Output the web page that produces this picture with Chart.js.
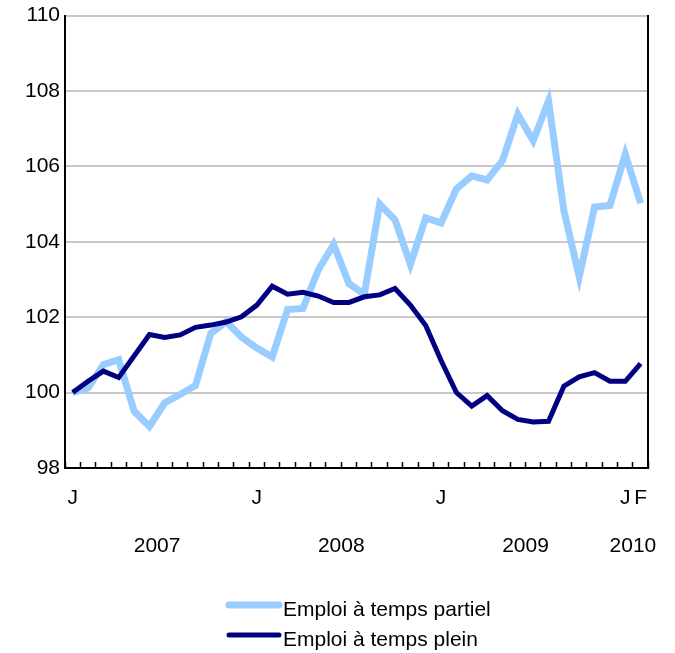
<!DOCTYPE html>
<html>
<head>
<meta charset="utf-8">
<script src="https://cdn.jsdelivr.net/npm/chart.js@4/dist/chart.umd.min.js"></script>
<style>
  html, body { margin: 0; padding: 0; background: #ffffff; }
  #wrap { width: 675px; height: 653px; }
</style>
</head>
<body>
<div id="wrap"><canvas id="c" width="675" height="653"></canvas></div>
<script>
// ---- Data ----
const months = [
  'Jan 2007','Feb 2007','Mar 2007','Apr 2007','May 2007','Jun 2007','Jul 2007','Aug 2007','Sep 2007','Oct 2007','Nov 2007','Dec 2007',
  'Jan 2008','Feb 2008','Mar 2008','Apr 2008','May 2008','Jun 2008','Jul 2008','Aug 2008','Sep 2008','Oct 2008','Nov 2008','Dec 2008',
  'Jan 2009','Feb 2009','Mar 2009','Apr 2009','May 2009','Jun 2009','Jul 2009','Aug 2009','Sep 2009','Oct 2009','Nov 2009','Dec 2009',
  'Jan 2010','Feb 2010'
];
const monthTickLabels = [
  'J','','','','','','','','','','','',
  'J','','','','','','','','','','','',
  'J','','','','','','','','','','','',
  'J','F'
];
const yearLabels = ['2007', '2008', '2009', '2010'];
const yearCentres = [5.5, 17.5, 29.5, 36.5];

const partTime = [
  100.0, 100.12, 100.74, 100.87, 99.51, 99.1, 99.73, 99.95, 100.19, 101.57, 101.88, 101.47,
  101.18, 100.94, 102.2, 102.23, 103.25, 103.93, 102.89, 102.61, 105.0, 104.58, 103.4, 104.63,
  104.5, 105.4, 105.75, 105.64, 106.15, 107.38, 106.68, 107.73, 104.83, 103.07, 104.92, 104.96,
  106.32, 105.02
];
const fullTime = [
  100.0, 100.3, 100.57, 100.4, 100.97, 101.54, 101.46, 101.53, 101.73, 101.79, 101.87, 102.01,
  102.32, 102.82, 102.61, 102.66, 102.56, 102.39, 102.39, 102.54, 102.59, 102.76, 102.32, 101.78,
  100.85, 100.0, 99.64, 99.92, 99.52, 99.29, 99.22, 99.24, 100.17, 100.42, 100.53, 100.3,
  100.3, 100.77
];
const seriesNames = ['Emploi à temps partiel', 'Emploi à temps plein'];

const FONT = { family: '"Liberation Sans", Arial, sans-serif', size: 21 };
const YFONT = { family: '"Liberation Sans", Arial, sans-serif', size: 21, lineHeight: 1 };

const legendPlugin = {
  id: 'customLegend',
  afterDraw(chart) {
    const ctx = chart.ctx;
    ctx.save();
    chart.data.datasets.forEach((ds, i) => {
      const yLine = 605 + i * 30;
      ctx.beginPath();
      ctx.strokeStyle = ds.borderColor;
      ctx.lineWidth = ds.borderWidth;
      ctx.lineCap = 'round';
      ctx.moveTo(229, yLine);
      ctx.lineTo(279, yLine);
      ctx.stroke();
      ctx.fillStyle = '#000000';
      ctx.font = FONT.size + 'px ' + FONT.family;
      ctx.textBaseline = 'alphabetic';
      ctx.textAlign = 'left';
      ctx.fillText(ds.label, 283, yLine + 11);
    });
    ctx.restore();
  }
};

new Chart(document.getElementById('c'), {
  type: 'line',
  data: {
    labels: months,
    datasets: [
      {
        label: seriesNames[0],
        data: partTime,
        borderColor: '#99ccff',
        backgroundColor: '#99ccff',
        borderWidth: 7,
        pointRadius: 0,
        tension: 0,
        order: 1,
        borderJoinStyle: 'miter',
        yAxisID: 'y',
        xAxisID: 'x'
      },
      {
        label: seriesNames[1],
        data: fullTime,
        borderColor: '#000080',
        backgroundColor: '#000080',
        borderWidth: 5,
        pointRadius: 0,
        tension: 0,
        order: 0,
        borderJoinStyle: 'miter',
        yAxisID: 'y',
        xAxisID: 'x'
      }
    ]
  },
  options: {
    responsive: false,
    animation: false,
    devicePixelRatio: 1,
    layout: { padding: { top: 14, right: 26, bottom: 87, left: 0 } },
    plugins: {
      legend: { display: false },
      tooltip: { enabled: false }
    },
    scales: {
      x: {
        type: 'category',
        position: 'bottom',
        weight: 0,
        offset: true,
        grid: {
          display: true,
          offset: true,
          drawOnChartArea: false,
          drawTicks: true,
          tickLength: -6,
          tickColor: '#000000',
          tickWidth: 1.5,
          color: '#000000'
        },
        border: { display: true, color: '#000000', width: 2 },
        ticks: {
          autoSkip: false,
          maxRotation: 0,
          minRotation: 0,
          padding: 24,
          color: '#000000',
          font: FONT,
          callback: (v, i) => monthTickLabels[i]
        },
        afterFit: (s) => { s.height = 48; }
      },
      xYear: {
        type: 'linear',
        position: 'bottom',
        weight: 1,
        min: -0.5,
        max: months.length - 0.5,
        grid: { display: false, drawTicks: false },
        border: { display: false },
        ticks: {
          padding: 18,
          color: '#000000',
          font: FONT,
          autoSkip: false,
          maxRotation: 0,
          callback: (v) => {
            const k = yearCentres.indexOf(v);
            return k >= 0 ? yearLabels[k] : '';
          }
        },
        afterBuildTicks: (s) => { s.ticks = yearCentres.map(v => ({ value: v })); },
        afterFit: (s) => { s.height = 50; }
      },
      y: {
        type: 'linear',
        position: 'left',
        min: 98,
        max: 110,
        ticks: {
          stepSize: 2,
          padding: 5,
          color: '#000000',
          font: YFONT
        },
        grid: {
          color: '#c8c8c8',
          lineWidth: 2,
          drawTicks: false
        },
        border: { display: true, color: '#000000', width: 2 },
        afterFit: (s) => { s.width = 65; }
      },
      yRight: {
        type: 'linear',
        position: 'right',
        min: 98,
        max: 110,
        ticks: { display: false },
        grid: { display: false, drawTicks: false },
        border: { display: true, color: '#000000', width: 2 },
        afterFit: (s) => { s.width = 0; }
      }
    }
  },
  plugins: [legendPlugin]
});
</script>
</body>
</html>
